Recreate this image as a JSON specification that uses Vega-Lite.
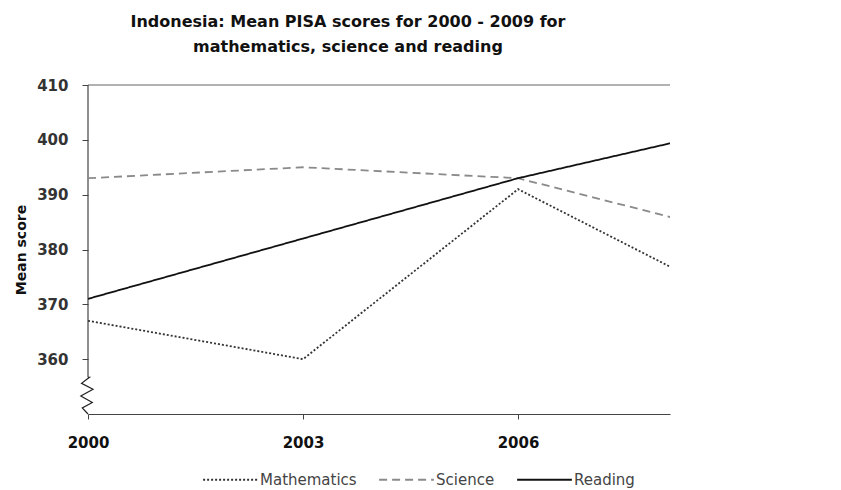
{
  "$schema": "https://vega.github.io/schema/vega-lite/v6.json",
  "width": 582,
  "height": 329,
  "autosize": {"type": "none"},
  "padding": {"left": 88, "top": 85, "right": 171, "bottom": 76},
  "background": "white",
  "config": {
    "font": "DejaVu Sans",
    "view": {"stroke": null}
  },
  "title": {
    "text": ["Indonesia: Mean PISA scores for 2000 - 2009 for", "mathematics, science and reading"],
    "fontSize": 16,
    "fontWeight": "bold",
    "lineHeight": 25,
    "offset": 23,
    "dx": -31,
    "anchor": "middle",
    "color": "#111"
  },
  "datasets": {
    "scores": [
      {"year": 2000, "subject": "Mathematics", "score": 367},
      {"year": 2003, "subject": "Mathematics", "score": 360},
      {"year": 2006, "subject": "Mathematics", "score": 391},
      {"year": 2009, "subject": "Mathematics", "score": 371},
      {"year": 2000, "subject": "Science", "score": 393},
      {"year": 2003, "subject": "Science", "score": 395},
      {"year": 2006, "subject": "Science", "score": 393},
      {"year": 2009, "subject": "Science", "score": 383},
      {"year": 2000, "subject": "Reading", "score": 371},
      {"year": 2003, "subject": "Reading", "score": 382},
      {"year": 2006, "subject": "Reading", "score": 393},
      {"year": 2009, "subject": "Reading", "score": 402}
    ],
    "zigzag": [
      {"x": 2000, "y": 356.7, "o": 0},
      {"x": 2000.02, "y": 356.7, "o": 1},
      {"x": 1999.91, "y": 355.6, "o": 2},
      {"x": 2000.07, "y": 354.5, "o": 3},
      {"x": 1999.9, "y": 353.3, "o": 4},
      {"x": 2000.06, "y": 352.1, "o": 5},
      {"x": 1999.92, "y": 351.1, "o": 6},
      {"x": 2000, "y": 350, "o": 7}
    ]
  },
  "layer": [
    {
      "data": {"values": [{}]},
      "mark": {"type": "rule", "color": "#999", "strokeWidth": 1.5},
      "encoding": {"y": {"datum": 410, "type": "quantitative", "scale": {"domain": [350, 410]}}}
    },
    {
      "data": {"values": [{}]},
      "mark": {"type": "rule", "color": "#444", "strokeWidth": 1.2},
      "encoding": {
        "x": {"datum": 2000, "type": "quantitative"},
        "y": {"datum": 356.7, "type": "quantitative"},
        "y2": {"datum": 410}
      }
    },
    {
      "data": {"name": "zigzag"},
      "mark": {"type": "line", "color": "#222", "strokeWidth": 1.2, "clip": false},
      "encoding": {
        "x": {"field": "x", "type": "quantitative"},
        "y": {"field": "y", "type": "quantitative"},
        "order": {"field": "o"}
      }
    },
    {
      "data": {"name": "scores"},
      "mark": {"type": "line", "clip": true},
      "encoding": {
        "x": {
          "field": "year",
          "type": "quantitative",
          "scale": {"domain": [2000, 2008.12], "nice": false, "zero": false},
          "axis": {
            "title": null,
            "values": [2000, 2003, 2006],
            "format": "d",
            "grid": false,
            "domainColor": "#444",
            "domainWidth": 1.2,
            "tickColor": "#444",
            "tickSize": 5,
            "labelFontSize": 15,
            "labelFontWeight": "bold",
            "labelColor": "#111",
            "labelPadding": 16,
            "labelFlush": false
          }
        },
        "y": {
          "field": "score",
          "type": "quantitative",
          "scale": {"domain": [350, 410], "nice": false, "zero": false},
          "axis": {
            "title": "Mean score",
            "titleFontSize": 14,
            "titleFontWeight": "bold",
            "titleColor": "#111",
            "titlePadding": 8,
            "values": [360, 370, 380, 390, 400, 410],
            "grid": false,
            "domain": false,
            "tickColor": "#444",
            "tickSize": 6,
            "labelFontSize": 15,
            "labelFontWeight": "bold",
            "labelColor": "#333",
            "labelPadding": 14
          }
        },
        "color": {
          "field": "subject",
          "type": "nominal",
          "scale": {"domain": ["Mathematics", "Science", "Reading"], "range": ["#333333", "#8a8a8a", "#111111"]},
          "legend": {
            "title": null,
            "orient": "none",
            "legendX": 114,
            "legendY": 366,
            "direction": "horizontal",
            "symbolType": "stroke",
            "symbolSize": 3000,
            "labelFontSize": 15,
            "labelColor": "#444",
            "columnPadding": 18,
            "labelOffset": 1
          }
        },
        "strokeDash": {
          "field": "subject",
          "type": "nominal",
          "scale": {"domain": ["Mathematics", "Science", "Reading"], "range": [[2, 2], [8, 5], [1, 0]]}
        },
        "strokeWidth": {
          "field": "subject",
          "type": "nominal",
          "scale": {"domain": ["Mathematics", "Science", "Reading"], "range": [1.8, 1.8, 2.8]}
        }
      }
    }
  ]
}
